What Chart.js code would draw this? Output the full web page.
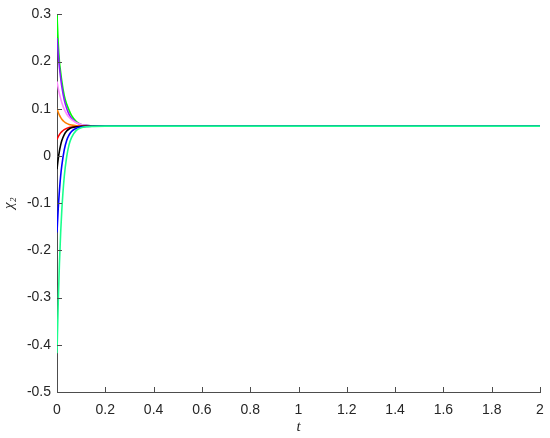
<!DOCTYPE html>
<html>
<head>
<meta charset="utf-8">
<script src="https://cdn.jsdelivr.net/npm/chart.js@4"></script>
<style>
  html, body { margin: 0; padding: 0; background: #fff; }
  #wrap { width: 550px; height: 438px; }
</style>
</head>
<body>
<div id="wrap"><canvas id="myChart" width="550" height="438"></canvas></div>
<script>
// sample times (t) and chi_2 values
const tVals = [0, 0.005, 0.01, 0.015, 0.02, 0.03, 0.04, 0.05, 0.06, 0.08, 0.1, 0.12, 0.15, 0.2, 2];

const greenTop = [0.300, 0.240, 0.200, 0.178, 0.158, 0.128, 0.110, 0.097, 0.086, 0.073, 0.067, 0.065, 0.0635, 0.0633, 0.0633];
const purple   = [0.250, 0.216, 0.188, 0.166, 0.147, 0.119, 0.101, 0.088, 0.080, 0.071, 0.0664, 0.065, 0.0635, 0.0633, 0.0633];
const pink     = [0.158, 0.144, 0.132, 0.122, 0.113, 0.099, 0.089, 0.082, 0.077, 0.0703, 0.0669, 0.0651, 0.0636, 0.0633, 0.0633];
const orange   = [0.100, 0.0926, 0.0866, 0.0818, 0.078, 0.0726, 0.0691, 0.0669, 0.0655, 0.064, 0.0633, 0.0633, 0.0633, 0.0633, 0.0633];
const red      = [0.035, 0.0408, 0.0453, 0.049, 0.0518, 0.056, 0.0585, 0.0602, 0.0612, 0.0625, 0.063, 0.0633, 0.0633, 0.0633, 0.0633];
const black    = [-0.028, -0.006, 0.0105, 0.023, 0.0327, 0.0455, 0.0529, 0.0572, 0.0596, 0.0619, 0.0627, 0.063, 0.0633, 0.0633, 0.0633];
const blue     = [-0.162, -0.112, -0.074, -0.043, -0.020, 0.013, 0.033, 0.0445, 0.052, 0.0589, 0.0615, 0.0625, 0.063, 0.0633, 0.0633];
const greenBot = [-0.418, -0.312, -0.229, -0.164, -0.114, -0.044, -0.002, 0.024, 0.039, 0.0542, 0.0598, 0.0618, 0.0628, 0.0633, 0.0633];

const xTicks = [0, 0.2, 0.4, 0.6, 0.8, 1, 1.2, 1.4, 1.6, 1.8, 2];
const yTicks = [-0.5, -0.4, -0.3, -0.2, -0.1, 0, 0.1, 0.2, 0.3];

// plotting order: later ones end up on top
const series = [
  { vals: greenTop, color: '#00ff00' },
  { vals: purple,   color: '#8c1aff' },
  { vals: pink,     color: '#ff8cff' },
  { vals: orange,   color: '#ff8000' },
  { vals: red,      color: '#ff0000' },
  { vals: black,    color: '#000000' },
  { vals: blue,     color: '#0000ff' },
  { vals: greenBot, color: '#1aff8c' }
];

const axisColor = '#4d4d4d';
const textColor = '#262626';

// inward tick marks, matlab style
const innerTicks = {
  id: 'innerTicks',
  afterDraw(chart) {
    const c = chart.ctx;
    const xs = chart.scales.x, ys = chart.scales.y;
    c.save();
    c.strokeStyle = axisColor;
    c.lineWidth = 1;
    c.beginPath();
    xTicks.forEach(v => {
      const px = Math.round(xs.getPixelForValue(v)) + 0.5;
      c.moveTo(px, ys.bottom);
      c.lineTo(px, ys.bottom - 5);
    });
    yTicks.forEach(v => {
      const py = Math.round(ys.getPixelForValue(v)) + 0.5;
      c.moveTo(xs.left, py);
      c.lineTo(xs.left + 5, py);
    });
    c.stroke();
    c.restore();
  }
};

const ctx = document.getElementById('myChart').getContext('2d');

new Chart(ctx, {
  type: 'scatter',
  data: {
    datasets: series.map((s, i) => ({
      data: tVals.map((t, j) => ({ x: t, y: s.vals[j] })),
      borderColor: s.color,
      backgroundColor: s.color,
      borderWidth: 1.6,
      showLine: true,
      pointRadius: 0,
      order: series.length - i,
      cubicInterpolationMode: 'monotone'
    }))
  },
  options: {
    responsive: false,
    animation: false,
    layout: { padding: { top: 13, right: 10, left: 0, bottom: 2 } },
    plugins: {
      legend: { display: false },
      tooltip: { enabled: false }
    },
    scales: {
      x: {
        type: 'linear',
        min: 0,
        max: 2,
        afterBuildTicks: scale => { scale.ticks = xTicks.map(v => ({ value: v })); },
        afterFit: scale => {
          scale.height = 44;
          scale.paddingLeft = 0;
          scale.paddingRight = 0;
        },
        grid: { display: true, drawOnChartArea: false, drawTicks: false },
        border: { display: true, color: axisColor, width: 1 },
        ticks: {
          color: textColor,
          padding: 10,
          maxRotation: 0,
          font: { family: 'Liberation Sans', size: 14 },
          callback: v => String(Math.round(v * 10) / 10)
        },
        title: {
          display: true,
          text: 't',
          color: textColor,
          padding: { top: 0, bottom: 0 },
          font: { family: 'Liberation Serif', size: 15, style: 'italic' }
        }
      },
      y: {
        type: 'linear',
        min: -0.5,
        max: 0.3,
        afterBuildTicks: scale => { scale.ticks = yTicks.map(v => ({ value: v })); },
        afterFit: scale => { scale.width = 57; },
        grid: { display: true, drawOnChartArea: false, drawTicks: false },
        border: { display: true, color: axisColor, width: 1 },
        ticks: {
          color: textColor,
          padding: 6,
          font: { family: 'Liberation Sans', size: 14 },
          callback: v => String(Math.round(v * 10) / 10)
        },
        title: {
          display: true,
          text: 'χ₂',
          color: textColor,
          padding: { top: 0, bottom: 0 },
          font: { family: 'Liberation Serif', size: 15, style: 'italic' }
        }
      }
    }
  },
  plugins: [innerTicks]
});
</script>
</body>
</html>
